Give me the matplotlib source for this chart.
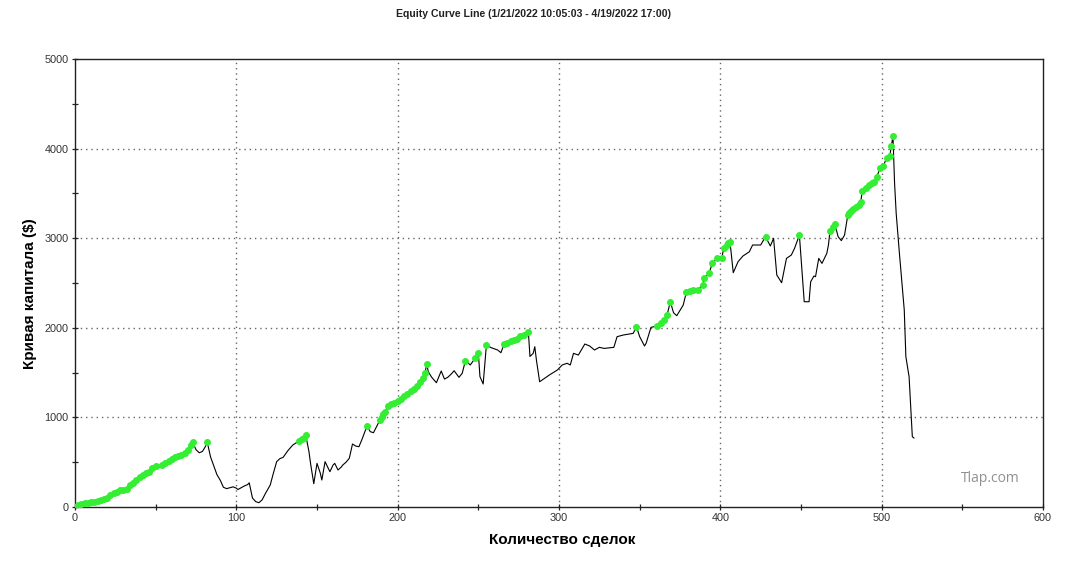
import numpy as np
import matplotlib
matplotlib.use("Agg")
import matplotlib.pyplot as plt
from matplotlib.ticker import MultipleLocator

# ---- data (trade number, equity $) ----
trades = [0, 2, 4, 6, 8, 10, 12, 14, 16, 18, 20, 22, 24, 26, 28, 30, 32, 34, 36, 38,
          40, 42, 44, 46, 48, 50, 52, 54, 56, 58, 60, 62, 64, 66, 68, 70, 72, 73, 75, 77,
          79, 81, 82, 84, 86, 88, 90, 92, 94, 96, 98, 100, 101, 103, 105, 107, 108, 110, 112, 114,
          116, 118, 121, 123, 125, 127, 129, 132, 135, 137, 139, 141, 142, 143, 145, 146, 148, 150, 152, 153,
          155, 157, 158, 160, 161, 163, 165, 166, 168, 170, 172, 174, 176, 178, 181, 183, 185, 187, 189, 190,
          191, 192, 194, 196, 198, 200, 202, 204, 206, 208, 210, 212, 214, 216, 217, 218, 219, 221, 224, 227,
          229, 231, 233, 235, 238, 240, 242, 245, 248, 250, 251, 253, 255, 258, 262, 264, 266, 268, 270, 272,
          274, 276, 278, 281, 282, 284, 285, 286, 288, 291, 294, 299, 302, 305, 307, 309, 312, 316, 319, 322,
          325, 328, 334, 336, 340, 346, 348, 350, 353, 354, 357, 361, 363, 365, 367, 369, 371, 373, 377, 379,
          381, 383, 386, 389, 390, 393, 395, 398, 401, 402, 404, 405, 406, 408, 411, 414, 418, 420, 425, 428,
          431, 433, 435, 438, 441, 444, 446, 449, 452, 455, 456, 458, 459, 461, 463, 466, 467, 468, 470, 471,
          473, 475, 477, 479, 480, 481, 482, 484, 486, 487, 488, 490, 492, 494, 495, 497, 499, 501, 503, 505,
          506, 507, 508, 509, 511, 514, 515, 517, 519, 520]
equity = [0, 25, 35, 40, 50, 55, 58, 65, 80, 92, 100, 130, 155, 170, 185, 190, 205, 240, 270, 300,
          330, 355, 375, 390, 440, 455, 445, 470, 490, 510, 540, 555, 570, 585, 605, 640, 690, 720, 640, 605,
          620, 680, 722, 560, 460, 360, 300, 220, 205, 215, 225, 210, 195, 215, 235, 250, 270, 100, 60, 48,
          80, 150, 245, 380, 506, 540, 554, 630, 692, 715, 737, 760, 775, 803, 620, 487, 260, 487, 380, 301,
          506, 430, 394, 470, 487, 413, 445, 469, 500, 543, 703, 680, 673, 760, 904, 841, 829, 900, 971, 1000,
          1040, 1060, 1127, 1150, 1165, 1180, 1210, 1240, 1265, 1290, 1320, 1350, 1400, 1440, 1500, 1593, 1510, 1450, 1387, 1518,
          1428, 1447, 1480, 1521, 1447, 1492, 1633, 1585, 1659, 1722, 1455, 1373, 1808, 1778, 1752, 1722, 1819, 1830, 1850, 1860,
          1880, 1910, 1920, 1957, 1680, 1715, 1789, 1640, 1398, 1436, 1473, 1529, 1585, 1604, 1585, 1715, 1696, 1819, 1797, 1752,
          1782, 1770, 1782, 1901, 1920, 1938, 2012, 1901, 1797, 1827, 2005, 2020, 2050, 2087, 2143, 2291, 2168, 2135, 2254, 2403,
          2410, 2422, 2425, 2478, 2552, 2608, 2719, 2775, 2780, 2886, 2920, 2950, 2960, 2615, 2738, 2801, 2849, 2924, 2924, 3017,
          2913, 2998, 2589, 2503, 2775, 2812, 2887, 3035, 2291, 2291, 2514, 2578, 2570, 2775, 2719, 2831, 2924, 3084, 3130, 3158,
          3017, 2973, 3035, 3258, 3280, 3300, 3322, 3350, 3370, 3400, 3530, 3560, 3594, 3620, 3630, 3686, 3780, 3806, 3892, 3917,
          4029, 4140, 3613, 3277, 2831, 2199, 1677, 1454, 785, 770]

x_ticks = [0, 100, 200, 300, 400, 500, 600]
y_ticks = [0, 1000, 2000, 3000, 4000, 5000]

title = "Equity Curve Line (1/21/2022 10:05:03 - 4/19/2022 17:00)"
xlabel = "Количество сделок"
ylabel = "Кривая капитала ($)"

plt.rcParams['font.family'] = ['Liberation Sans', 'DejaVu Sans']

fig = plt.figure(figsize=(10.80, 5.63), dpi=100)
ax = fig.add_axes([75/1080, 56/563, 968/1080, 448/563])

x = np.array(trades)
y = np.array(equity)
runmax = np.maximum.accumulate(y)
is_high = y >= runmax

ax.plot(x, y, color='black', lw=0.8, zorder=3)
ax.plot(x[is_high], y[is_high], ls='none', marker='o', ms=4.0,
        color='#33ee33', mec='#33ee33', zorder=4)

ax.set_xlim(0, 600)
ax.set_ylim(0, 5000)
ax.set_xticks(x_ticks)
ax.set_yticks(y_ticks)
ax.xaxis.set_minor_locator(MultipleLocator(50))
ax.yaxis.set_minor_locator(MultipleLocator(500))
ax.tick_params(which='both', direction='inout', length=5, width=0.9, color='#222222',
               labelsize=7.8, labelcolor='#333333', pad=2)

for v in x_ticks[1:-1]:
    ax.axvline(v, color='#666666', ls=(0, (1, 2.8)), lw=1, zorder=1)
for v in y_ticks[1:-1]:
    ax.axhline(v, color='#666666', ls=(0, (1, 2.8)), lw=1, zorder=1)

for s in ax.spines.values():
    s.set_color('#222222')
    s.set_linewidth(1.0)

fig.text(533/1080, 1 - 14/563, title, ha='center', va='center', fontsize=7.6, fontweight='bold', color='#222222')
fig.text(562/1080, 1 - 540/563, xlabel, ha='center', va='center', fontsize=11, fontweight='bold', color='black')
fig.text(30/1080, 1 - 294/563, ylabel, ha='center', va='center', rotation=90, fontsize=11, fontweight='bold', color='black')
ax.text(990/1080, 1 - 478/563, "Tlap.com", transform=fig.transFigure, ha='center', va='center',
        fontsize=10, color='#909090', family=['Open Sans', 'DejaVu Sans'])

fig.savefig("out.png", dpi=100)
